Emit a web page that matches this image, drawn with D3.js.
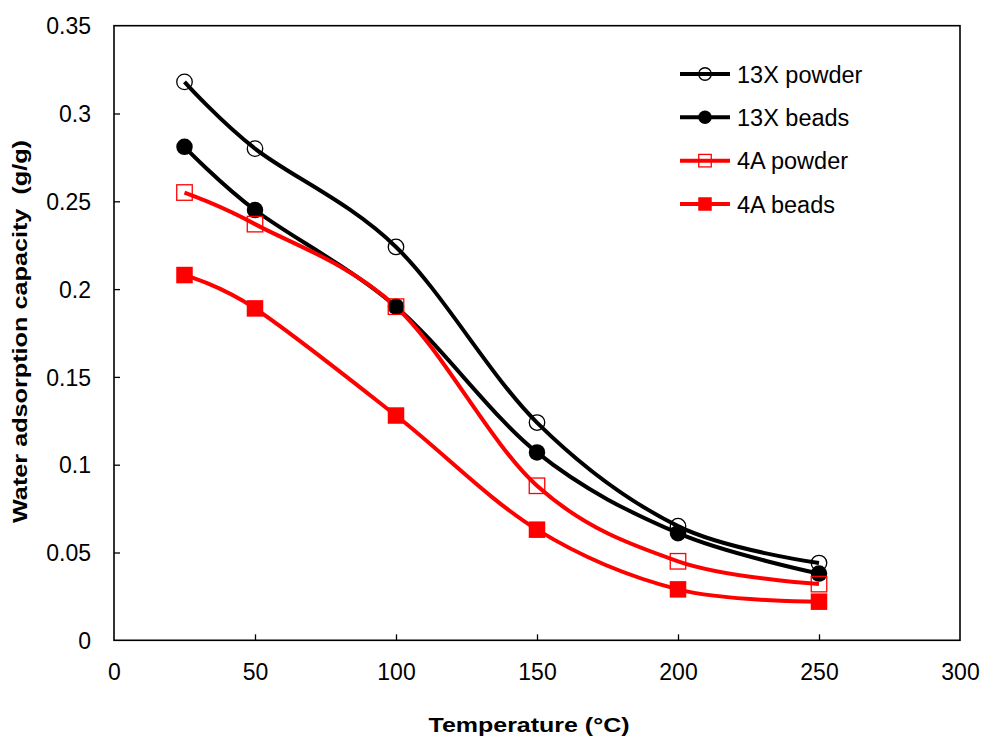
<!DOCTYPE html>
<html>
<head>
<meta charset="utf-8">
<script src="https://cdn.jsdelivr.net/npm/d3@7"></script>
<style>
  html, body { margin: 0; padding: 0; background: #fff; }
  svg { display: block; font-family: "Liberation Sans", Arial, sans-serif; }
</style>
</head>
<body>
<svg id="chart" width="983" height="740"></svg>
<script>
// Temperatures (°C) at which water uptake was measured
const temperatures = [25, 50, 100, 150, 200, 250];

// Water adsorption capacity (g/g) for each adsorbent
const powder13X = [0.318, 0.280, 0.224, 0.124, 0.065, 0.044];
const beads13X  = [0.281, 0.245, 0.190, 0.107, 0.061, 0.038];
const powder4A  = [0.255, 0.237, 0.190, 0.088, 0.045, 0.032];
const beads4A   = [0.208, 0.189, 0.128, 0.063, 0.029, 0.022];

const seriesNames = ["13X powder", "13X beads", "4A powder", "4A beads"];

// Axis tick values
const xTicks = [0, 50, 100, 150, 200, 250, 300];
const yTicks = [0, 0.05, 0.1, 0.15, 0.2, 0.25, 0.3, 0.35];

const series = [
  { name: seriesNames[0], values: powder13X, color: "#000000", shape: "circle", filled: false },
  { name: seriesNames[1], values: beads13X,  color: "#000000", shape: "circle", filled: true },
  { name: seriesNames[2], values: powder4A,  color: "#ff0000", shape: "square", filled: false },
  { name: seriesNames[3], values: beads4A,   color: "#ff0000", shape: "square", filled: true }
];

const svg = d3.select("#chart");
const plot = { left: 114, right: 960, top: 25.7, bottom: 640.3 };

const x = d3.scaleLinear().domain([0, 300]).range([plot.left, plot.right]);
const y = d3.scaleLinear().domain([0, 0.35]).range([plot.bottom, plot.top]);

// Frame around the plotting area
svg.append("rect")
  .attr("x", plot.left).attr("y", plot.top)
  .attr("width", plot.right - plot.left).attr("height", plot.bottom - plot.top)
  .attr("fill", "none").attr("stroke", "#000").attr("stroke-width", 1.6);

// Axes with inward ticks
const fmtY = d => d === 0 ? "0" : d3.format("")(+d.toFixed(2));
const xAxis = svg.append("g")
  .attr("transform", `translate(0,${plot.bottom})`)
  .call(d3.axisBottom(x).tickValues(xTicks).tickSizeInner(-6).tickSizeOuter(0).tickPadding(14));
const yAxis = svg.append("g")
  .attr("transform", `translate(${plot.left},0)`)
  .call(d3.axisLeft(y).tickValues(yTicks).tickFormat(fmtY).tickSizeInner(-6).tickSizeOuter(0).tickPadding(23));

[xAxis, yAxis].forEach(g => {
  g.select(".domain").remove();
  g.selectAll(".tick line").attr("stroke", "#000").attr("stroke-width", 1.3);
  g.selectAll(".tick text")
    .attr("fill", "#000")
    .style("font-family", "'Liberation Sans', Arial, sans-serif")
    .style("font-size", "23px");
});
// Drop the ticks that would sit on the frame corners
xAxis.selectAll(".tick").filter(d => d === 0 || d === 300).select("line").remove();
yAxis.selectAll(".tick").filter(d => d === 0 || d === 0.35).select("line").remove();
xAxis.selectAll(".tick text").attr("y", 23).attr("dy", "0.71em");
yAxis.selectAll(".tick text").attr("dy", "0.36em");

// Axis titles (wide bold lettering)
svg.append("text")
  .attr("x", 529).attr("y", 731.5)
  .attr("text-anchor", "middle")
  .attr("font-weight", "bold").attr("font-size", 21)
  .attr("textLength", 201).attr("lengthAdjust", "spacingAndGlyphs")
  .text("Temperature (°C)");

svg.append("text")
  .attr("transform", "translate(27,331.5) rotate(-90)")
  .attr("text-anchor", "middle")
  .attr("font-weight", "bold").attr("font-size", 21)
  .attr("textLength", 383).attr("lengthAdjust", "spacingAndGlyphs")
  .attr("xml:space", "preserve")
  .text("Water adsorption capacity  (g/g)");

// Smoothed curves
const line = d3.line()
  .x((d, i) => x(temperatures[i]))
  .y(d => y(d))
  .curve(d3.curveCatmullRom.alpha(0));

const curves = svg.append("g");
series.forEach(s => {
  curves.append("path")
    .datum(s.values)
    .attr("d", line)
    .attr("fill", "none")
    .attr("stroke", s.color)
    .attr("stroke-width", 4)
    .attr("stroke-linejoin", "round");
});

// Marker drawing helper
function drawMarker(g, s, cx, cy, size) {
  if (s.shape === "circle") {
    g.append("circle")
      .attr("cx", cx).attr("cy", cy).attr("r", size / 2)
      .attr("fill", s.filled ? s.color : "none")
      .attr("stroke", s.color).attr("stroke-width", s.filled ? 0 : 1.3);
  } else {
    g.append("rect")
      .attr("x", cx - size / 2).attr("y", cy - size / 2)
      .attr("width", size).attr("height", size)
      .attr("fill", s.filled ? s.color : "none")
      .attr("stroke", s.color).attr("stroke-width", s.filled ? 0 : 1.3);
  }
}

const markers = svg.append("g");
series.forEach(s => {
  s.values.forEach((v, i) => {
    drawMarker(markers, s, x(temperatures[i]), y(v), s.filled ? 16.5 : 15.5);
  });
});

// Legend
const legend = svg.append("g");
const legendY = d3.scaleLinear().domain([0, 3]).range([74, 204]);
series.forEach((s, i) => {
  const ly = legendY(i);
  legend.append("line")
    .attr("x1", 680).attr("x2", 730).attr("y1", ly).attr("y2", ly)
    .attr("stroke", s.color).attr("stroke-width", 4);
  drawMarker(legend, s, 705, ly, s.filled ? 13.5 : 12.5);
  legend.append("text")
    .attr("x", 737).attr("y", ly + 8.5)
    .attr("font-size", 23.5)
    .text(s.name);
});
</script>
</body>
</html>
